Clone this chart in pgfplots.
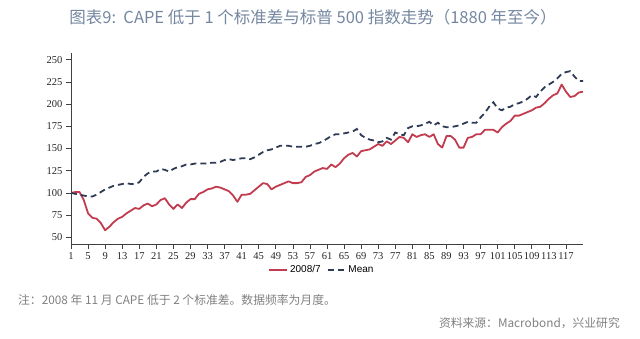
\documentclass[border=0pt]{standalone}
\usepackage{fontspec}
\setmainfont{Liberation Serif}
\newfontfamily\cjk{Noto Sans CJK SC}
\newfontfamily\sans{Liberation Sans}
\usepackage{pgfplots}
\usepackage{pgfplotstable}
\pgfplotsset{compat=1.18}
\definecolor{redline}{HTML}{C23B4E}
\definecolor{navy}{HTML}{2E3B55}
\definecolor{titlec}{HTML}{7587A0}
\definecolor{notec}{HTML}{808080}
\pgfplotstableread{
x y
1 100
2 101
3 101
4 92
5 77
6 72
7 71
8 66
9 58
10 62
11 67
12 71
13 73
14 77
15 80
16 83
17 82
18 86
19 88
20 85
21 87
22 92
23 94
24 87
25 82
26 87
27 83
28 89
29 93
30 93
31 99
32 101
33 104
34 105
35 107
36 106
37 104
38 102
39 97
40 90
41 98
42 98
43 99
44 103
45 107
46 111
47 110
48 104
49 107
50 109
51 111
52 113
53 111
54 111
55 112
56 118
57 120
58 124
59 126
60 128
61 127
62 132
63 129
64 133
65 139
66 143
67 145
68 141
69 147
70 148
71 149
72 152
73 155
74 153
75 158
76 155
77 159
78 163
79 162
80 157
81 166
82 163
83 165
84 166
85 163
86 166
87 155
88 151
89 164
90 164
91 160
92 151
93 151
94 162
95 163
96 166
97 166
98 171
99 171
100 171
101 168
102 174
103 178
104 181
105 187
106 187
107 189
108 191
109 193
110 196
111 197
112 201
113 206
114 210
115 212
116 222
117 214
118 208
119 209
120 213
121 214
}\redtab
\pgfplotstableread{
x y
1 100
2 99
3 98
4 97
5 96
6 96
7 98
8 101
9 104
10 106
11 108
12 109
13 110
14 111
15 110
16 110
17 112
18 118
19 122
20 124
21 124
22 127
23 126
24 124
25 127
26 129
27 130
28 132
29 132
30 133
31 133
32 133
33 133
34 134
35 134
36 135
37 137
38 138
39 137
40 138
41 139
42 139
43 138
44 140
45 143
46 146
47 148
48 149
49 151
50 153
51 153
52 153
53 152
54 152
55 152
56 152
57 153
58 155
59 156
60 158
61 161
62 164
63 166
64 166
65 167
66 168
67 169
68 172
69 165
70 162
71 160
72 159
73 157
74 158
75 162
76 160
77 168
78 166
79 165
80 173
81 175
82 175
83 176
84 178
85 180
86 176
87 179
88 175
89 174
90 174
91 175
92 176
93 178
94 180
95 179
96 179
97 185
98 190
99 197
100 202
101 195
102 193
103 196
104 197
105 200
106 201
107 203
108 206
109 210
110 208
111 214
112 219
113 222
114 225
115 229
116 234
117 236
118 237
119 231
120 226
121 226
}\meantab
\begin{document}
\begin{tikzpicture}[x=1pt,y=1pt]
\path (0,0) rectangle (640,339);
\begin{axis}[at={(71pt,95pt)}, anchor=south west, scale only axis,
  width=512pt, height=191pt,
  xmin=1, xmax=121, ymin=42.5, ymax=257.5,
  axis lines=left, axis line style={-, black!75, line width=0.8pt},
  xtick={1,5,...,117}, ytick={50,75,...,250},
  tick align=outside, major tick length=5pt,
  tick style={black!75, line width=0.7pt},
  ticklabel style={font=\fontsize{10.5}{11}\selectfont, text=black!85},
  xticklabel style={inner xsep=0pt},
  /pgf/number format/assume math mode=true,
  /pgf/number format/1000 sep={},
  legend style={at={(0.49,-0.135)}, anchor=center, draw=none, fill=none,
    legend columns=2, font=\sans\fontsize{10}{11}\selectfont,
    /tikz/every even column/.append style={column sep=4pt}},
  legend image code/.code={\draw[#1] (0pt,0pt) -- (18pt,0pt);},
]
\addplot[redline, line width=1.8pt, line join=round] table[x=x,y=y] {\redtab};
\addlegendentry{2008/7}
\addplot[navy, line width=1.8pt, dash pattern=on 6pt off 4pt] table[x=x,y=y] {\meantab};
\addlegendentry{Mean}
\end{axis}
\node[text=titlec, font=\cjk\fontsize{16.5}{18}\selectfont] at (313,322) {图表9:\ \ CAPE 低于 1 个标准差与标普 500 指数走势（1880 年至今）};
\node[anchor=west, text=notec, font=\cjk\fontsize{11.8}{13}\selectfont, inner sep=0pt] at (18,39) {注：2008 年 11 月 CAPE 低于 2 个标准差。数据频率为月度。};
\node[anchor=east, text=notec, font=\cjk\fontsize{11.8}{13}\selectfont, inner sep=0pt] at (620,16) {资料来源：Macrobond，兴业研究};
\end{tikzpicture}
\end{document}
